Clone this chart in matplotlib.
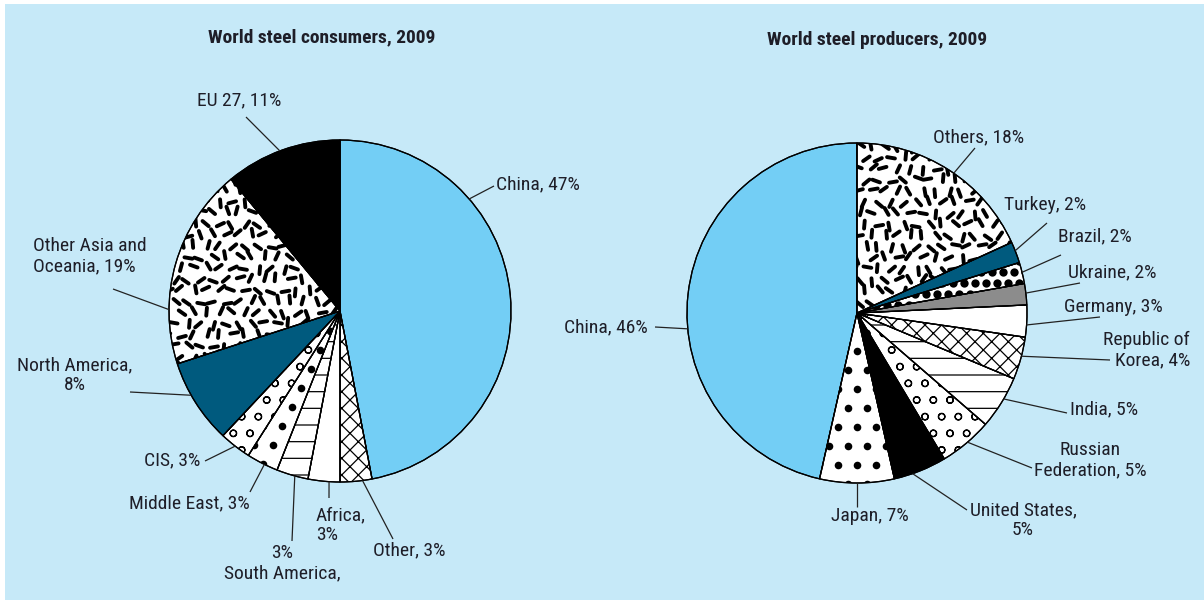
import numpy as np
import matplotlib
matplotlib.use("Agg")
import matplotlib.pyplot as plt
from matplotlib.collections import LineCollection
from matplotlib.patches import Rectangle, PathPatch
from matplotlib import font_manager

# ---------------- data ----------------
cons_labels = ["China, 47%", "Other, 3%", "Africa,\n3%", "3%\nSouth America,", "Middle East, 3%",
               "CIS, 3%", "North America,\n8%", "Other Asia and\nOceania, 19%", "EU 27, 11%"]
cons_values = [47, 3, 3, 3, 3, 3, 8, 19, 11]

prod_labels = ["China, 46%", "Japan, 7%", "United States,\n5%", "Russian\nFederation, 5%", "India, 5%",
               "Republic of\nKorea, 4%", "Germany, 3%", "Ukraine, 2%", "Brazil, 2%", "Turkey, 2%",
               "Others, 18%"]
prod_values = [46, 7, 5, 5, 5, 4, 3, 2, 2, 2, 18]

titles = ["World steel consumers, 2009", "World steel producers, 2009"]

# ---------------- styles ----------------
BG = "#C6E9F8"
LBLUE = "#73CEF5"
TEAL = "#005A7E"
GRAY = "#8C8C8C"
TXT = "#1E1E28"

cons_styles = [(LBLUE, None, None), ("white", "xx", None), ("white", None, None), ("white", "-", None),
               ("white", None, "dots"), ("white", "o", None), (TEAL, None, None),
               ("white", None, "dashes"), ("black", None, None)]
prod_styles = [(LBLUE, None, None), ("white", None, "dots"), ("black", None, None), ("white", "o", None),
               ("white", "-", None), ("white", "xx", None), ("white", None, None), (GRAY, None, None),
               ("white", None, "densedots"), (TEAL, None, None), ("white", None, "dashes")]

# label layout: (text x, text y, ha, attach fraction within wedge, line start x, y) pixel coords (y down)
cons_layout = [
    (496, 184, "left", 0.29, 494, 186),
    (373, 550, "left", 0.30, 393, 539),
    (316, 525, "left", 0.34, 329, 498),
    (282, 563, "center", 0.42, 292, 541),
    (129, 503, "left", 0.43, 250, 492),
    (200, 460, "right", 0.50, 205, 461),
    (75, 375, "center", 0.60, 130, 392),
    (33, 256, "left", 0.27, 113, 289),
    (197, 100, "left", 0.48, 246, 117),
]
prod_layout = [
    (648, 327, "right", 0.57, 655, 327),
    (831, 516, "left", 0.50, 857, 507),
    (1023, 520, "center", 0.35, 967, 510),
    (1090, 460, "center", 0.53, 1032, 468),
    (1070, 409, "left", 0.58, 1067, 413),
    (1190, 350, "right", 0.55, 1110, 360),
    (1064, 307, "left", 0.38, 1100, 317),
    (1068, 272, "left", 0.55, 1080, 283),
    (1058, 236, "left", 0.53, 1061, 255),
    (1004, 205, "left", 0.58, 1047, 223),
    (933, 137, "left", 0.47, 975, 148),
]

# ---------------- font choice ----------------
available = {f.name for f in font_manager.fontManager.ttflist}
FONT = None
for cand in ["Liberation Sans Narrow", "Roboto Condensed", "Arial Narrow", "Open Sans Condensed",
             "Noto Sans Condensed", "DejaVu Sans Condensed"]:
    if cand in available:
        FONT = cand
        break
STRETCH = "normal"
if FONT is None:
    FONT = "DejaVu Sans"
    STRETCH = "condensed"

W, H = 1204, 600
plt.rcParams["font.family"] = [FONT, "DejaVu Sans"]
plt.rcParams["font.stretch"] = STRETCH
plt.rcParams["hatch.linewidth"] = 0.9

fig = plt.figure(figsize=(W / 100, H / 100), dpi=100)
fig.patch.set_facecolor("white")
ax = fig.add_axes([0, 0, 1, 1])
ax.set_xlim(0, W)
ax.set_ylim(0, H)
ax.set_aspect("equal")
ax.axis("off")
ax.add_patch(Rectangle((5, 0), W - 5, H - 4, facecolor=BG, edgecolor="none", zorder=0))


def Y(y):
    return H - y


def add_texture(wedge, kind, cx, cy, r):
    x0, x1 = cx - r - 20, cx + r + 20
    y0, y1 = cy - r - 20, cy + r + 20
    if kind == "dashes":
        step = 12.8
        angs = [55, 130, 85, 160, 25, 110, 65, 145, 95, 10, 40, 120, 170, 75, 35, 140, 100, 15]
        offs = [0, 2, -1, 1, -2, 2, -1, 2, -2, 1, 0]
        segs = []
        for j, yy in enumerate(np.arange(y0, y1, step * 0.87)):
            shift = step / 2 if j % 2 else 0
            for i, xx in enumerate(np.arange(x0, x1, step)):
                a = np.deg2rad(angs[(i * 7 + j * 11 + (i * j) % 5) % len(angs)])
                px = xx + shift + offs[(i + 3 * j) % len(offs)]
                py = yy + offs[(2 * i + j) % len(offs)]
                L = 4.0
                segs.append([(px - L * np.cos(a), py - L * np.sin(a)),
                             (px + L * np.cos(a), py + L * np.sin(a))])
        lc = LineCollection(segs, colors="black", linewidths=2.8, capstyle="round", zorder=3)
        lc.set_clip_path(wedge)
        ax.add_collection(lc)
    else:
        step = 19 if kind == "dots" else 11
        size = 30 if kind == "dots" else 36
        pts = []
        for j, yy in enumerate(np.arange(y0, y1, step)):
            shift = step / 2 if j % 2 else 0
            for xx in np.arange(x0, x1, step):
                pts.append((xx + shift, yy))
        pts = np.array(pts)
        sc = ax.scatter(pts[:, 0], pts[:, 1], s=size, c="black", marker="o", linewidths=0, zorder=3)
        sc.set_clip_path(wedge)


def draw_pie(values, labels, styles, layout, center, r, counterclock):
    cx, cy = center
    wedges, _ = ax.pie(values, center=(cx, cy), radius=r, startangle=90, counterclock=counterclock,
                       colors=[s[0] for s in styles], frame=True,
                       wedgeprops=dict(edgecolor="black", linewidth=0.9))
    total = float(sum(values))
    cum = 0.0
    for w, v, st, lab, lay in zip(wedges, values, styles, labels, layout):
        w.set_zorder(2)
        if st[1]:
            w.set_hatch(st[1])
        if st[2]:
            add_texture(w, st[2], cx, cy, r)
        tx, ty, ha, frac, lx, ly = lay
        c = cum + frac * v
        sign = 1 if counterclock else -1
        ang = np.deg2rad(90 + sign * c / total * 360)
        ex, ey = cx + r * np.cos(ang), cy + r * np.sin(ang)
        ax.plot([lx, ex], [Y(ly), ey], color="#222222", lw=0.9, zorder=4, solid_capstyle="butt")
        ax.text(tx, Y(ty), lab, ha=ha, va="center", fontsize=14, color=TXT, zorder=5,
                linespacing=1.15)
        cum += v
    for w in wedges:
        ax.add_patch(PathPatch(w.get_path(), fill=False, edgecolor="black", lw=0.9, zorder=3.5,
                               transform=w.get_transform()))
    return wedges


draw_pie(cons_values, cons_labels, cons_styles, cons_layout, (340, Y(311)), 171, False)
draw_pie(prod_values, prod_labels, prod_styles, prod_layout, (857, Y(313)), 170, True)

ax.set_xlim(0, W)
ax.set_ylim(0, H)
ax.axis("off")

ax.text(322, Y(37), titles[0], ha="center", va="center", fontsize=14, fontweight="bold", color=TXT)
ax.text(877, Y(40), titles[1], ha="center", va="center", fontsize=14, fontweight="bold", color=TXT)

fig.savefig("out.png", dpi=100, facecolor=fig.get_facecolor())
